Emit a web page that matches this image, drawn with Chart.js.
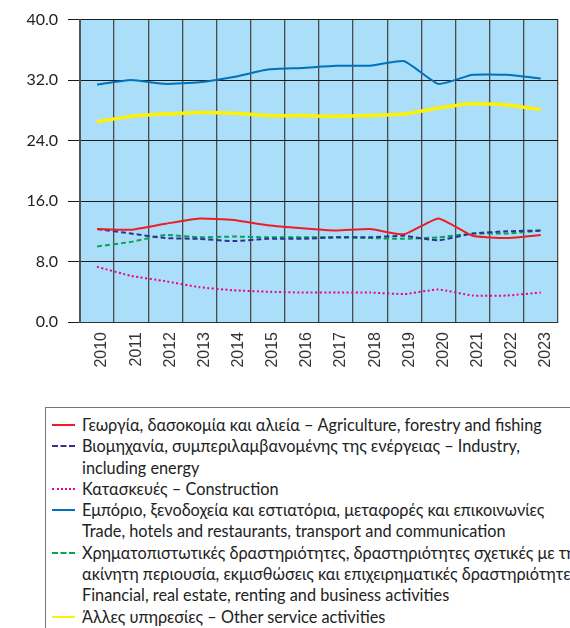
<!DOCTYPE html>
<html>
<head>
<meta charset="utf-8">
<script src="https://cdn.jsdelivr.net/npm/chart.js@4"></script>
<style>
  html, body { margin: 0; padding: 0; background: #fff; overflow: hidden; width: 570px; height: 628px; }
  #wrap { position: absolute; left: 0; top: 0; width: 570px; height: 395px; }
  #legenda {
    position: absolute; left: 45px; top: 407px; width: 640px; height: 260px;
    border: 1px solid #777; box-sizing: border-box; padding-top: 6px;
    font-family: Lato, "Open Sans", sans-serif; font-size: 16.3px; color: #222;
    line-height: 21.3px; white-space: nowrap;
  }
  .linha { position: relative; padding-left: 36px; }
  .amostra { position: absolute; left: 6px; top: 10px; width: 23px; height: 0; }
</style>
</head>
<body>
<div id="wrap"><canvas id="grafico"></canvas></div>
<div id="legenda"></div>
<script>
const anos = ['2010','2011','2012','2013','2014','2015','2016','2017','2018','2019','2020','2021','2022','2023'];

const agricultura = [12.3, 12.2, 13.0, 13.7, 13.5, 12.8, 12.4, 12.1, 12.3, 11.6, 13.7, 11.4, 11.1, 11.5];
const industria   = [12.3, 11.7, 11.1, 11.0, 10.7, 11.0, 11.0, 11.2, 11.2, 11.4, 10.8, 11.7, 12.0, 12.1];
const construcao  = [7.3, 6.1, 5.4, 4.6, 4.2, 4.0, 3.9, 3.9, 3.9, 3.7, 4.3, 3.5, 3.5, 3.9];
const comercio    = [31.4, 32.0, 31.5, 31.7, 32.4, 33.4, 33.6, 33.9, 33.9, 34.5, 31.5, 32.7, 32.7, 32.2];
const financeiro  = [10.0, 10.6, 11.5, 11.2, 11.3, 11.2, 11.2, 11.2, 11.1, 11.0, 11.2, 11.7, 11.7, 12.1];
const outros      = [26.5, 27.2, 27.5, 27.7, 27.6, 27.3, 27.3, 27.2, 27.3, 27.5, 28.3, 28.9, 28.7, 28.1];

const ticksY = [0, 8, 16, 24, 32, 40];

const nomes = [
  ['Γεωργία, δασοκομία και αλιεία – Agriculture, forestry and fishing'],
  ['Βιομηχανία, συμπεριλαμβανομένης της ενέργειας – Industry,', 'including energy'],
  ['Κατασκευές – Construction'],
  ['Εμπόριο, ξενοδοχεία και εστιατόρια, μεταφορές και επικοινωνίες', 'Trade, hotels and restaurants, transport and communication'],
  ['Χρηματοπιστωτικές δραστηριότητες, δραστηριότητες σχετικές με την', 'ακίνητη περιουσία, εκμισθώσεις και επιχειρηματικές δραστηριότητες', 'Financial, real estate, renting and business activities'],
  ['Άλλες υπηρεσίες – Other service activities']
];

function serie(nome, dados, cor, largura, traco){
    return {
        label: nome.join(' '),
        data: dados,
        borderColor: cor,
        backgroundColor: cor,
        borderWidth: largura,
        borderDash: traco,
        pointRadius: 0,
        tension: 0.15,
        fill: false
    };
}

const fundoPlot = {
    id: 'fundoPlot',
    beforeDraw(chart){
        const {ctx, chartArea} = chart;
        ctx.save();
        ctx.fillStyle = '#ABDEF8';
        ctx.fillRect(chartArea.left, chartArea.top, chartArea.right - chartArea.left, chartArea.bottom - chartArea.top);
        ctx.restore();
    }
};

const $grafico = document.getElementById('grafico');
const grafico = new Chart($grafico, {
    type: 'line',
    data: {
        labels: anos,
        datasets: [
            serie(nomes[0], agricultura, '#EE1C25', 2, []),
            serie(nomes[1], industria, '#2E3192', 2, [5, 3]),
            serie(nomes[2], construcao, '#EC008C', 2, [2, 2.5]),
            serie(nomes[3], comercio, '#0072BC', 2, []),
            serie(nomes[4], financeiro, '#00A651', 2, [5, 3]),
            serie(nomes[5], outros, '#FFF200', 3.5, [])
        ]
    },
    options: {
        responsive: true,
        maintainAspectRatio: false,
        animation: false,
        layout: { padding: { top: 12, right: 0, left: 0, bottom: 0 } },
        plugins: { legend: { display: false }, tooltip: { enabled: false } },
        scales: {
            x: {
                offset: true,
                grid: { offset: true, color: '#4a4a4a', lineWidth: 1.3, drawTicks: false },
                border: { color: '#333', width: 1 },
                ticks: {
                    maxRotation: 90, minRotation: 90, padding: 10, labelOffset: 5,
                    color: '#333', font: { family: '"Liberation Sans", Arial', size: 16 }
                },
                afterFit(s){ s.height = 73; }
            },
            y: {
                min: 0, max: 40,
                afterBuildTicks(s){ s.ticks = ticksY.map(v => ({ value: v })); },
                grid: { color: '#1a1a1a', lineWidth: 1, tickLength: 12 },
                border: { color: '#555', width: 2 },
                ticks: {
                    padding: 10, color: '#222',
                    font: { family: 'Lato, "Open Sans", sans-serif', size: 16 },
                    callback: v => v.toFixed(1)
                },
                afterFit(s){ s.width = 80; }
            }
        }
    },
    plugins: [fundoPlot]
});

const $legenda = document.getElementById('legenda');
grafico.data.datasets.forEach((ds, i) => {
    nomes[i].forEach((texto, j) => {
        const linha = document.createElement('div');
        linha.className = 'linha';
        linha.textContent = texto;
        if (j === 0) {
            const amostra = document.createElement('span');
            amostra.className = 'amostra';
            let estilo = 'solid';
            if (ds.borderDash.length) estilo = ds.borderDash[0] > 3 ? 'dashed' : 'dotted';
            amostra.style.borderTop = `2px ${estilo} ${ds.borderColor}`;
            linha.appendChild(amostra);
        }
        $legenda.appendChild(linha);
    });
});
</script>
</body>
</html>
